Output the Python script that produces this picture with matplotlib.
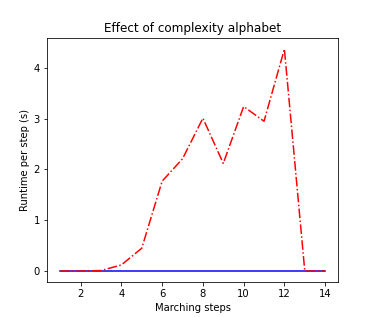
import matplotlib
matplotlib.use("Agg")
import matplotlib.pyplot as plt

steps = [1, 2, 3, 4, 5, 6, 7, 8, 9, 10, 11, 12, 13, 14]
runtime_red = [0.0, 0.0, 0.01, 0.12, 0.45, 1.77, 2.21, 3.01, 2.12, 3.24, 2.95, 4.37, 0.0, 0.0]
runtime_blue = [0.0] * 14

fig, ax = plt.subplots(figsize=(376 / 72, 317 / 72), dpi=72)
ax.plot(steps, runtime_blue, color="blue", linestyle="-")
ax.plot(steps, runtime_red, color="red", linestyle="-.")
ax.set_title("Effect of complexity alphabet")
ax.set_xlabel("Marching steps")
ax.set_ylabel("Runtime per step (s)")
ax.set_xticks([2, 4, 6, 8, 10, 12, 14])
ax.set_yticks([0, 1, 2, 3, 4])
fig.savefig("out.png", dpi=72)
